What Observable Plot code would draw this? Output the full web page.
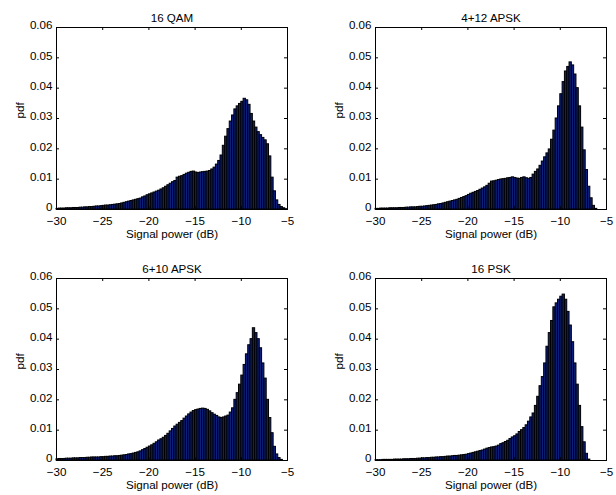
<!DOCTYPE html>
<html>
<head>
<meta charset="utf-8">
<script src="https://cdn.jsdelivr.net/npm/d3@7"></script>
<script src="https://cdn.jsdelivr.net/npm/@observablehq/plot@0.6"></script>
<style>
  html, body { margin: 0; padding: 0; background: #fff; }
  #fig { position: relative; width: 616px; height: 495px; background: #fff; font-family: "Liberation Sans", Arial, Helvetica, sans-serif; }
  #fig svg { position: absolute; overflow: visible; }
</style>
</head>
<body>
<div id="fig"></div>
<script>
// ---- data ----
const titles = ["16 QAM", "4+12 APSK", "6+10 APSK", "16 PSK"];
const xLabel = "Signal power (dB)";
const yLabel = "pdf";
const xTicks = [-30, -25, -20, -15, -10, -5];
const xTickLabels = ["\u221230", "\u221225", "\u221220", "\u221215", "\u221210", "\u22125"];
const yTicks = [0, 0.01, 0.02, 0.03, 0.04, 0.05, 0.06];
const yTickLabels = ["0", "0.01", "0.02", "0.03", "0.04", "0.05", "0.06"];
const binStart = -30;
const binWidth = 0.25;

// 100 bins of 0.25 dB from -30 to -5 dB
const pdf16QAM = [
  0.0002, 0.0003, 0.0003, 0.0003,
  0.0004, 0.0004, 0.0004, 0.0005,
  0.0005, 0.0005, 0.0006, 0.0006,
  0.0007, 0.0007, 0.0008, 0.0008,
  0.0009, 0.0010, 0.0010, 0.0011,
  0.0012, 0.0013, 0.0013, 0.0014,
  0.0015, 0.0016, 0.0017, 0.0018,
  0.0020, 0.0022, 0.0024, 0.0026,
  0.0028, 0.0030, 0.0032, 0.0034,
  0.0036, 0.0040, 0.0043, 0.0047,
  0.0050, 0.0053, 0.0056, 0.0059,
  0.0062, 0.0066, 0.0070, 0.0075,
  0.0080, 0.0085, 0.0090, 0.0094,
  0.0105, 0.0108, 0.0110, 0.0114,
  0.0118, 0.0121, 0.0124, 0.0125,
  0.0122, 0.0120, 0.0122, 0.0123,
  0.0124, 0.0125, 0.0127, 0.0132,
  0.0138, 0.0148, 0.0160, 0.0178,
  0.0210, 0.0240, 0.0265, 0.0290,
  0.0310, 0.0330, 0.0340, 0.0348,
  0.0355, 0.0365, 0.0360, 0.0345,
  0.0315, 0.0290, 0.0270, 0.0255,
  0.0245, 0.0236, 0.0228, 0.0215,
  0.0175, 0.0105, 0.0060, 0.0030,
  0.0015, 0.0008, 0.0004, 0.0001
];
const pdf4p12APSK = [
  0.0002, 0.0002, 0.0003, 0.0003,
  0.0003, 0.0003, 0.0004, 0.0004,
  0.0004, 0.0004, 0.0005, 0.0005,
  0.0005, 0.0006, 0.0006, 0.0007,
  0.0007, 0.0007, 0.0008, 0.0009,
  0.0009, 0.0010, 0.0011, 0.0012,
  0.0013, 0.0014, 0.0015, 0.0017,
  0.0018, 0.0020, 0.0022, 0.0024,
  0.0026, 0.0028, 0.0030, 0.0032,
  0.0035, 0.0038, 0.0041, 0.0044,
  0.0048, 0.0052, 0.0055, 0.0058,
  0.0061, 0.0065, 0.0069, 0.0073,
  0.0078, 0.0085, 0.0092, 0.0093,
  0.0095, 0.0097, 0.0099, 0.0100,
  0.0101, 0.0103, 0.0104, 0.0106,
  0.0104, 0.0102, 0.0101, 0.0104,
  0.0106, 0.0103, 0.0101, 0.0104,
  0.0115, 0.0124, 0.0132, 0.0144,
  0.0158, 0.0172, 0.0185, 0.0198,
  0.0230, 0.0260, 0.0300, 0.0340,
  0.0380, 0.0420, 0.0455, 0.0470,
  0.0485, 0.0475, 0.0445, 0.0400,
  0.0340, 0.0270, 0.0195, 0.0130,
  0.0075, 0.0037, 0.0012, 0.0002,
  0, 0, 0, 0
];
const pdf6p10APSK = [
  0.0004, 0.0005, 0.0005, 0.0005,
  0.0006, 0.0006, 0.0006, 0.0007,
  0.0007, 0.0007, 0.0008, 0.0008,
  0.0008, 0.0009, 0.0009, 0.0010,
  0.0010, 0.0010, 0.0010, 0.0011,
  0.0011, 0.0012, 0.0012, 0.0013,
  0.0013, 0.0014, 0.0014, 0.0015,
  0.0016, 0.0017, 0.0018, 0.0020,
  0.0021, 0.0023, 0.0025, 0.0027,
  0.0030, 0.0034, 0.0038, 0.0042,
  0.0046, 0.0050, 0.0055, 0.0060,
  0.0066, 0.0070, 0.0075, 0.0081,
  0.0088, 0.0096, 0.0104, 0.0112,
  0.0118, 0.0124, 0.0130, 0.0138,
  0.0145, 0.0152, 0.0158, 0.0163,
  0.0166, 0.0168, 0.0170, 0.0171,
  0.0170, 0.0167, 0.0162, 0.0156,
  0.0151, 0.0147, 0.0142, 0.0140,
  0.0142, 0.0145, 0.0148, 0.0158,
  0.0172, 0.0200, 0.0222, 0.0250,
  0.0280, 0.0315, 0.0350, 0.0380,
  0.0400, 0.0436, 0.0420, 0.0400,
  0.0370, 0.0320, 0.0270, 0.0200,
  0.0140, 0.0090, 0.0045, 0.0020,
  0.0008, 0.0002, 0, 0
];
const pdf16PSK = [
  0.0001, 0.0001, 0.0001, 0.0002,
  0.0002, 0.0002, 0.0002, 0.0002,
  0.0003, 0.0003, 0.0003, 0.0003,
  0.0004, 0.0004, 0.0004, 0.0005,
  0.0005, 0.0005, 0.0006, 0.0006,
  0.0007, 0.0007, 0.0008, 0.0008,
  0.0009, 0.0009, 0.0010, 0.0010,
  0.0011, 0.0011, 0.0012, 0.0013,
  0.0013, 0.0014, 0.0015, 0.0015,
  0.0016, 0.0017, 0.0018, 0.0019,
  0.0021, 0.0023, 0.0025, 0.0027,
  0.0029, 0.0031, 0.0033, 0.0036,
  0.0039, 0.0041, 0.0043, 0.0044,
  0.0046, 0.0049, 0.0054, 0.0057,
  0.0061, 0.0065, 0.0071, 0.0076,
  0.0080, 0.0086, 0.0094, 0.0100,
  0.0107, 0.0116, 0.0128, 0.0142,
  0.0155, 0.0180, 0.0210, 0.0245,
  0.0275, 0.0320, 0.0375, 0.0420,
  0.0460, 0.0505, 0.0518, 0.0530,
  0.0540, 0.0547, 0.0530, 0.0490,
  0.0445, 0.0390, 0.0320, 0.0250,
  0.0180, 0.0110, 0.0060, 0.0022,
  0.0003, 0, 0, 0,
  0, 0, 0, 0
];
const series = [pdf16QAM, pdf4p12APSK, pdf6p10APSK, pdf16PSK];

// ---- layout (pixel placement of the four panels) ----
const panels = [
  {left: 0,   top: 0,   width: 308, height: 247, ml: 56, mr: 21, mt: 27, mb: 38},
  {left: 308, top: 0,   width: 308, height: 247, ml: 67, mr: 10, mt: 27, mb: 38},
  {left: 0,   top: 246, width: 308, height: 249, ml: 56, mr: 21, mt: 32, mb: 35},
  {left: 308, top: 246, width: 308, height: 249, ml: 67, mr: 10, mt: 32, mb: 35}
];

const FONT = "'Liberation Sans', Arial, Helvetica, sans-serif";
const FS = 11.6;
const fig = document.getElementById("fig");

panels.forEach((p, k) => {
  const values = series[k];
  const bins = values.map((v, i) => ({
    x1: binStart + i * binWidth,
    x2: binStart + (i + 1) * binWidth,
    y: v
  }));
  const pw = p.width - p.ml - p.mr;
  const ph = p.height - p.mt - p.mb;
  const tick = 3;
  const chart = Plot.plot({
    width: p.width,
    height: p.height,
    marginLeft: p.ml,
    marginRight: p.mr,
    marginTop: p.mt,
    marginBottom: p.mb,
    style: {fontFamily: FONT, fontSize: FS + "px", color: "#000", background: "transparent"},
    x: {domain: [-30, -5], axis: null},
    y: {domain: [0, 0.06], axis: null},
    marks: [
      Plot.rectY(bins, {x1: "x1", x2: "x2", y: "y", fill: "#0c1f7a", stroke: "#000", strokeWidth: 1}),
      Plot.frame({stroke: "#000", strokeWidth: 1}),
      // inward tick marks on all four sides
      Plot.ruleX(xTicks, {x: d => d, insetTop: ph - tick, stroke: "#000"}),
      Plot.ruleX(xTicks, {x: d => d, insetBottom: ph - tick, stroke: "#000"}),
      Plot.ruleY(yTicks, {y: d => d, insetRight: pw - tick, stroke: "#000"}),
      Plot.ruleY(yTicks, {y: d => d, insetLeft: pw - tick, stroke: "#000"}),
      // tick labels
      Plot.axisX({anchor: "bottom", ticks: xTicks, tickSize: 0, tickPadding: 7.5, label: null,
        tickFormat: d => xTickLabels[xTicks.indexOf(d)], fontSize: FS, fill: "#000"}),
      Plot.axisY({anchor: "left", ticks: yTicks, tickSize: 0, tickPadding: 4, dy: -2, label: null,
        tickFormat: d => yTickLabels[yTicks.indexOf(d)], fontSize: FS, fill: "#000"}),
      // titles and axis labels
      Plot.text([titles[k]], {frameAnchor: "top", dy: -13.5, text: d => d, fontSize: FS, fill: "#000"}),
      Plot.text([xLabel], {frameAnchor: "bottom", dy: 28.5, text: d => d, fontSize: FS, fill: "#000"}),
      Plot.text([yLabel], {frameAnchor: "left", dx: -36, rotate: -90, text: d => d, fontSize: FS, fill: "#000"})
    ]
  });
  chart.style.left = p.left + "px";
  chart.style.top = p.top + "px";
  fig.appendChild(chart);
});
</script>
</body>
</html>
